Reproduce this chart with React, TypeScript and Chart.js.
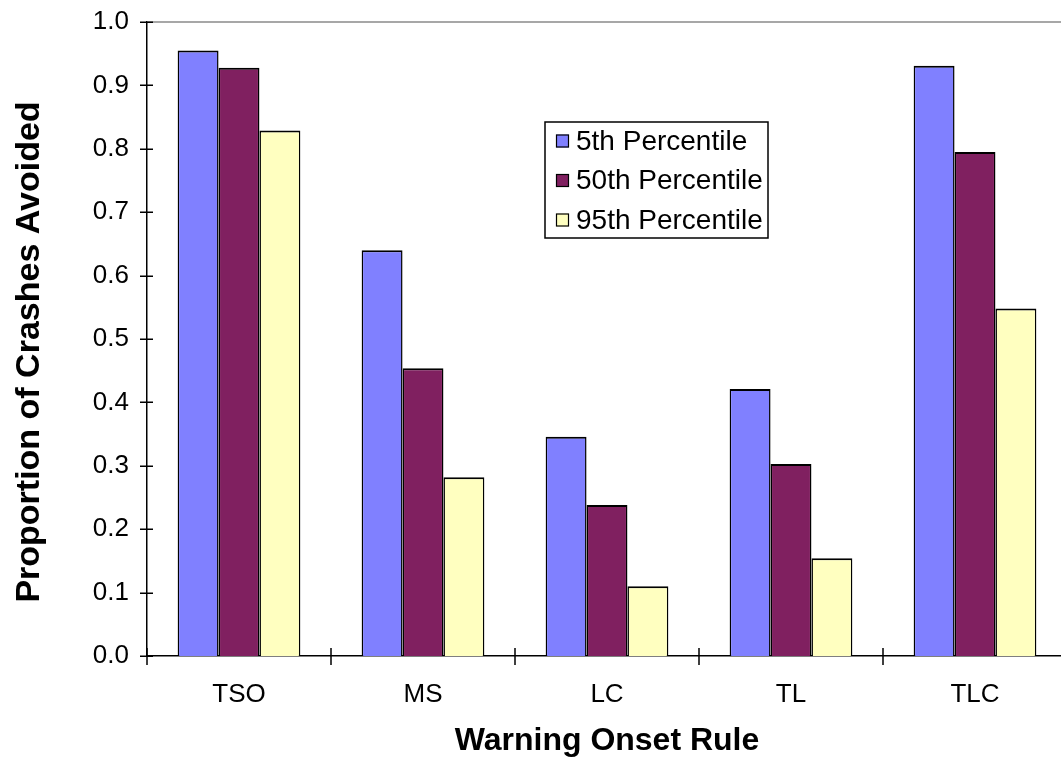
import React, { useEffect, useRef } from "react";
import { Chart, registerables } from "chart.js";

Chart.register(...registerables);

const categories = ["TSO", "MS", "LC", "TL", "TLC"];
const seriesNames = ["5th Percentile", "50th Percentile", "95th Percentile"];
const p5 = [0.955, 0.64, 0.346, 0.421, 0.931];
const p50 = [0.928, 0.454, 0.238, 0.303, 0.795];
const p95 = [0.829, 0.282, 0.11, 0.154, 0.548];
const colors = ["#8080FF", "#802060", "#FFFFC0"];
const yTicks = [0, 0.1, 0.2, 0.3, 0.4, 0.5, 0.6, 0.7, 0.8, 0.9, 1.0];
const yTitle = "Proportion of Crashes Avoided";
const xTitle = "Warning Onset Rule";

const FONT = "'Liberation Sans', Arial, sans-serif";

const decorPlugin = {
  id: "decor",
  afterDraw(chart: any) {
    const ctx = chart.ctx;
    const xs = chart.scales.x;
    const ys = chart.scales.y;
    const area = chart.chartArea;
    ctx.save();
    // top grey line at max
    ctx.strokeStyle = "#8a8a8a";
    ctx.lineWidth = 1.5;
    ctx.beginPath();
    ctx.moveTo(area.left, ys.getPixelForValue(1));
    ctx.lineTo(area.right, ys.getPixelForValue(1));
    ctx.stroke();
    // y ticks crossing axis
    ctx.strokeStyle = "#000";
    ctx.lineWidth = 1.5;
    ctx.beginPath();
    yTicks.forEach((v) => {
      const y = Math.round(ys.getPixelForValue(v)) + 0.25;
      ctx.moveTo(area.left - 7, y);
      ctx.lineTo(area.left + 6, y);
    });
    // x ticks at category boundaries
    const n = categories.length;
    for (let i = 0; i <= n; i++) {
      const x = xs.left + (i * (xs.right - xs.left)) / n;
      ctx.moveTo(x, area.bottom - 8);
      ctx.lineTo(x, area.bottom + 9);
    }
    ctx.stroke();

    // y axis title
    ctx.save();
    ctx.translate(30, 352);
    ctx.rotate(-Math.PI / 2);
    ctx.font = `bold 34px ${FONT}`;
    ctx.fillStyle = "#000";
    ctx.textAlign = "center";
    ctx.textBaseline = "middle";
    ctx.fillText(yTitle, 0, 0);
    ctx.restore();

    // legend
    const bx = 545, by = 122, bw = 223, bh = 116;
    ctx.fillStyle = "#fff";
    ctx.fillRect(bx, by, bw, bh);
    ctx.strokeStyle = "#000";
    ctx.lineWidth = 1.5;
    ctx.strokeRect(bx, by, bw, bh);
    const rows = [141, 180.5, 220];
    ctx.font = `28px ${FONT}`;
    ctx.textBaseline = "middle";
    ctx.textAlign = "left";
    seriesNames.forEach((name, i) => {
      const cy = rows[i];
      ctx.fillStyle = colors[i];
      ctx.fillRect(556, cy - 6.5, 13, 13);
      ctx.strokeStyle = "#000";
      ctx.lineWidth = 1.2;
      ctx.strokeRect(556.5, cy - 6, 12, 12);
      ctx.fillStyle = "#000";
      ctx.fillText(name, 576, cy + 1);
    });
    ctx.restore();
  },
};

export default function App() {
  const ref = useRef<HTMLCanvasElement | null>(null);
  useEffect(() => {
    if (!ref.current) return;
    const data = [p5, p50, p95];
    const chart = new Chart(ref.current, {
      type: "bar",
      data: {
        labels: categories,
        datasets: seriesNames.map((name, i) => ({
          label: name,
          data: data[i],
          backgroundColor: colors[i],
          borderColor: "#000",
          borderWidth: { top: 2, left: 1.5, right: 1.5, bottom: 0 },
          borderSkipped: "start",
          categoryPercentage: 0.667,
          barPercentage: 1.0,
        })),
      },
      options: {
        responsive: false,
        animation: false,
        layout: { padding: { top: 22, right: 2, left: 0, bottom: 0 } },
        plugins: { legend: { display: false }, tooltip: { enabled: false } },
        scales: {
          x: {
            afterFit(scale: any) {
              scale.height = 108;
              scale.paddingLeft = 0;
              scale.paddingRight = 0;
            },
            grid: { display: false, drawTicks: false },
            border: { display: true, color: "#000", width: 1.5 },
            ticks: {
              color: "#000",
              padding: 23,
              font: { family: FONT, size: 26 },
              maxRotation: 0,
            },
            title: {
              display: true,
              text: xTitle,
              color: "#000",
              font: { family: FONT, size: 32, weight: "bold" },
              padding: { top: 0, bottom: 4 },
            },
          },
          y: {
            min: 0,
            max: 1,
            afterFit(scale: any) {
              scale.width = 147;
              scale.paddingTop = 0;
              scale.paddingBottom = 0;
            },
            afterBuildTicks(scale: any) {
              scale.ticks = yTicks.map((v) => ({ value: v }));
            },
            grid: { display: false, drawTicks: false },
            border: { display: true, color: "#000", width: 1.5 },
            ticks: {
              color: "#000",
              padding: 18,
              font: { family: FONT, size: 26 },
              callback: (v: any) => Number(v).toFixed(1),
            },
            title: { display: false },
          },
        },
      },
      plugins: [decorPlugin],
    });
    return () => chart.destroy();
  }, []);
  return (
    <div style={{ position: "fixed", left: 0, top: 0, width: 1069, height: 764, background: "#fff" }}>
      <canvas ref={ref} width={1069} height={764} style={{ display: "block" }} />
    </div>
  );
}
